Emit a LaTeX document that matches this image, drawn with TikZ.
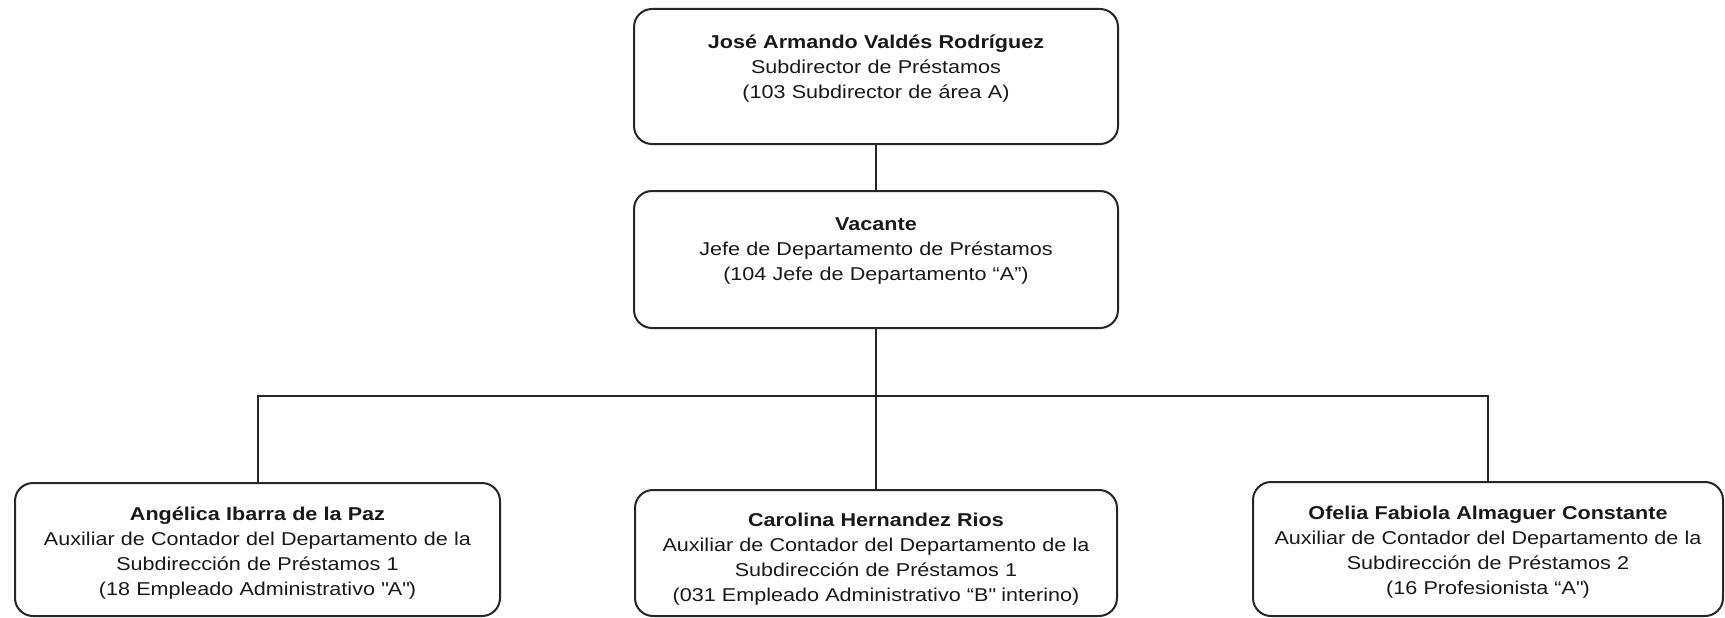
\documentclass[tikz,border=0pt]{standalone}
\usepackage{fontspec}
\setmainfont{Liberation Sans}[FakeStretch=1.16]
\begin{document}
\begin{tikzpicture}[x=1pt,y=-1pt,
  orgbox/.style={draw=black!85, line width=2pt, rounded corners=18pt, outer sep=0pt, inner sep=0pt, anchor=north west},
  orgtext/.style={anchor=base, inner sep=0pt, align=center, text=black!90,
     font=\fontsize{18.6}{25}\selectfont},
  link/.style={draw=black!85, line width=2pt}]
\useasboundingbox (0,0) rectangle (1725,618);
% boxes
\node[orgbox, minimum width=484pt, minimum height=135pt] (top) at (634,9) {};
\node[orgbox, minimum width=484pt, minimum height=137pt] (mid) at (634,191) {};
\node[orgbox, minimum width=485pt, minimum height=133pt] (left) at (15,483) {};
\node[orgbox, minimum width=482pt, minimum height=126pt] (cen) at (635,490) {};
\node[orgbox, minimum width=470pt, minimum height=134pt] (right) at (1253,482) {};
% texts
\node[orgtext, text width=470pt] (toptxt) at ([yshift=-39.5pt]top.north)
  {\textbf{José Armando Valdés Rodríguez}\\Subdirector de Préstamos\\(103 Subdirector de área A)};
\node[orgtext, text width=470pt] (midtxt) at ([yshift=-39.5pt]mid.north)
  {\textbf{Vacante}\\Jefe de Departamento de Préstamos\\(104 Jefe de Departamento “A”)};
\node[orgtext, text width=475pt] (lefttxt) at ([yshift=-37pt]left.north)
  {\textbf{Angélica Ibarra de la Paz}\\Auxiliar de Contador del Departamento de la\\Subdirección de Préstamos 1\\(18 Empleado Administrativo \textquotedbl A\textquotedbl)};
\node[orgtext, text width=472pt] (centxt) at ([yshift=-36.5pt]cen.north)
  {\textbf{Carolina Hernandez Rios}\\Auxiliar de Contador del Departamento de la\\Subdirección de Préstamos 1\\(031 Empleado Administrativo “B\textquotedbl{} interino)};
\node[orgtext, text width=460pt] (righttxt) at ([yshift=-37pt]right.north)
  {\textbf{Ofelia Fabiola Almaguer Constante}\\Auxiliar de Contador del Departamento de la\\Subdirección de Préstamos 2\\(16 Profesionista “A\textquotedbl)};
% connectors
\coordinate (bus) at (0,396);
\draw[link] (top.south) -- (mid.north);
\draw[link] (mid.south) -- (cen.north);
\draw[link] (left.north) -- (left.north |- bus) -- (right.north |- bus) -- (right.north);
\end{tikzpicture}
\end{document}
